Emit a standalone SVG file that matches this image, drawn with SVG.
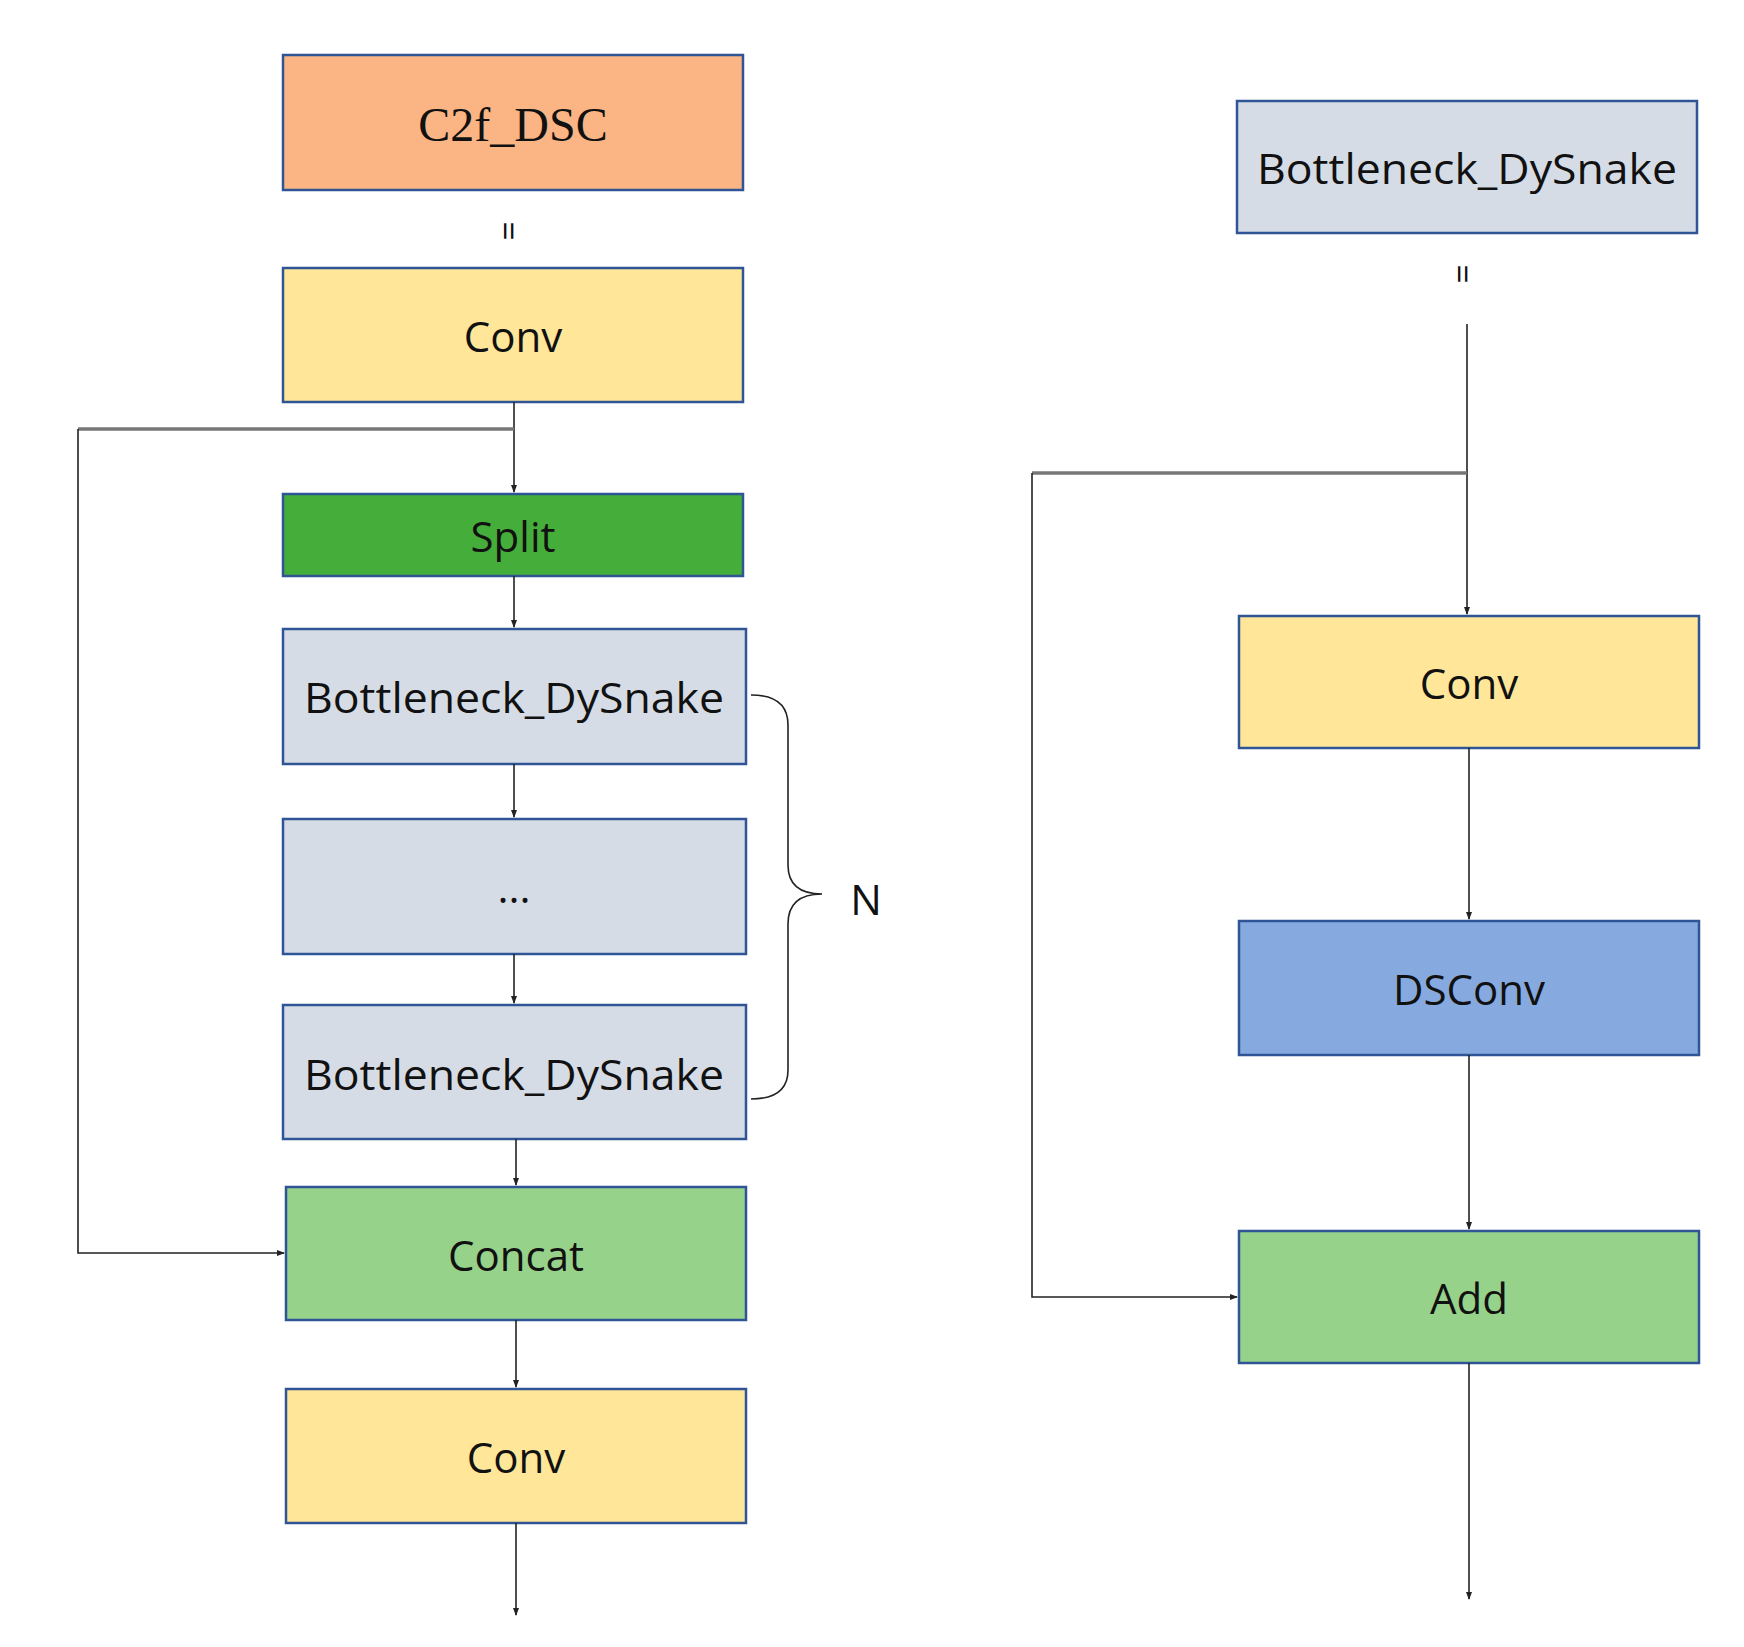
<svg xmlns="http://www.w3.org/2000/svg" width="1744" height="1647" viewBox="0 0 1744 1647">
<style>
.b{stroke:#2F5597;stroke-width:2.5}
.t{font-family:"Open Sans","Noto Sans",sans-serif;font-size:42px;fill:#111;text-anchor:middle;dominant-baseline:central}
.c{fill:none;stroke:#222;stroke-width:1.6}
.g{fill:none;stroke:#777;stroke-width:3.5}
</style>
<defs><marker id="a" markerWidth="8" markerHeight="8" refX="7" refY="4" orient="auto" markerUnits="userSpaceOnUse"><path d="M0,1 L8,4 L0,7z" fill="#222"/></marker></defs>
<rect width="1744" height="1647" fill="#fff"/>
<g id="c2f"><rect class="b" x="283" y="55" width="460" height="135" fill="#FBB584"/><text x="513" y="124" style="font-family:'Liberation Serif',serif;font-size:48px;fill:#111;text-anchor:middle;dominant-baseline:central">C2f_DSC</text></g>
<text class="t" transform="translate(509,231) rotate(90)" style="font-size:34px">=</text>
<g id="conv1"><rect class="b" x="283" y="268" width="460" height="134" fill="#FFE699"/><text class="t" x="513" y="335">Conv</text></g>
<g id="split"><rect class="b" x="283" y="494" width="460" height="82" fill="#45AD3A"/><text class="t" x="513" y="535">Split</text></g>
<g id="bd1"><rect class="b" x="283" y="629" width="463" height="135" fill="#D6DCE5"/><text class="t" x="514" y="696" textLength="420" lengthAdjust="spacingAndGlyphs">Bottleneck_DySnake</text></g>
<g id="dots"><rect class="b" x="283" y="819" width="463" height="135" fill="#D6DCE5"/><text class="t" x="514" y="886">...</text></g>
<g id="bd2"><rect class="b" x="283" y="1005" width="463" height="134" fill="#D6DCE5"/><text class="t" x="514" y="1073" textLength="420" lengthAdjust="spacingAndGlyphs">Bottleneck_DySnake</text></g>
<g id="concat"><rect class="b" x="286" y="1187" width="460" height="133" fill="#97D28A"/><text class="t" x="516" y="1254">Concat</text></g>
<g id="conv2"><rect class="b" x="286" y="1389" width="460" height="134" fill="#FFE699"/><text class="t" x="516" y="1456">Conv</text></g>
<g id="brace"><path class="c" d="M751,695 Q788,695 788,725 L788,865 Q788,894 822,894 Q788,894 788,924 L788,1070 Q788,1099 751,1099"/><text class="t" x="866" y="898">N</text></g>
<g id="bdr"><rect class="b" x="1237" y="101" width="460" height="132" fill="#D6DCE5"/><text class="t" x="1467" y="167" textLength="420" lengthAdjust="spacingAndGlyphs">Bottleneck_DySnake</text></g>
<text class="t" transform="translate(1463,274) rotate(90)" style="font-size:34px">=</text>
<g id="convr"><rect class="b" x="1239" y="616" width="460" height="132" fill="#FFE699"/><text class="t" x="1469" y="682">Conv</text></g>
<g id="dsconv"><rect class="b" x="1239" y="921" width="460" height="134" fill="#86AADF"/><text class="t" x="1469" y="988">DSConv</text></g>
<g id="add"><rect class="b" x="1239" y="1231" width="460" height="132" fill="#97D28A"/><text class="t" x="1469" y="1297">Add</text></g>
<g id="connectors">
<path class="c" d="M514,402 L514,492" marker-end="url(#a)"/>
<path class="g" d="M514,429 L78,429"/>
<path class="c" d="M78,429 L78,1253 L284,1253" marker-end="url(#a)"/>
<path class="c" d="M514,576 L514,627" marker-end="url(#a)"/>
<path class="c" d="M514,764 L514,817" marker-end="url(#a)"/>
<path class="c" d="M514,954 L514,1003" marker-end="url(#a)"/>
<path class="c" d="M516,1139 L516,1185" marker-end="url(#a)"/>
<path class="c" d="M516,1320 L516,1387" marker-end="url(#a)"/>
<path class="c" d="M516,1523 L516,1615" marker-end="url(#a)"/>
<path class="c" d="M1467,324 L1467,614" marker-end="url(#a)"/>
<path class="g" d="M1467,473 L1032,473"/>
<path class="c" d="M1032,473 L1032,1297 L1237,1297" marker-end="url(#a)"/>
<path class="c" d="M1469,748 L1469,919" marker-end="url(#a)"/>
<path class="c" d="M1469,1055 L1469,1229" marker-end="url(#a)"/>
<path class="c" d="M1469,1363 L1469,1599" marker-end="url(#a)"/>
</g>
</svg>
